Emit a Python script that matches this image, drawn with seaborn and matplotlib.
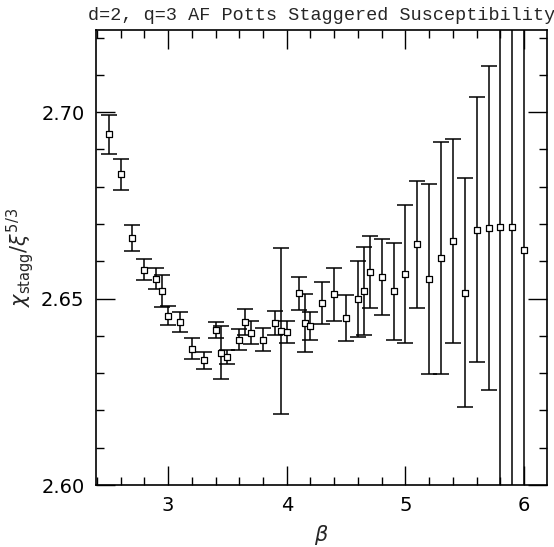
import matplotlib
matplotlib.use("Agg")
import matplotlib.pyplot as plt
import seaborn as sns
import pandas as pd
from matplotlib.ticker import MultipleLocator

beta = [2.5, 2.6, 2.7, 2.8, 2.9, 2.95, 3.0, 3.1, 3.2, 3.3, 3.4, 3.45, 3.5, 3.6,
        3.65, 3.7, 3.8, 3.9, 3.95, 4.0, 4.1, 4.15, 4.2, 4.3, 4.4, 4.5, 4.6, 4.65,
        4.7, 4.8, 4.9, 5.0, 5.1, 5.2, 5.3, 5.4, 5.5, 5.6, 5.7, 5.8, 5.9, 6.0]
chi = [2.6940, 2.6833, 2.6663, 2.6577, 2.6553, 2.6520, 2.6454, 2.6437, 2.6366,
       2.6334, 2.6415, 2.6355, 2.6343, 2.6390, 2.6437, 2.6409, 2.6390, 2.6434,
       2.6413, 2.6411, 2.6514, 2.6434, 2.6426, 2.6488, 2.6511, 2.6447, 2.6499,
       2.6519, 2.6571, 2.6559, 2.6520, 2.6567, 2.6646, 2.6552, 2.6609, 2.6654,
       2.6516, 2.6685, 2.6690, 2.6692, 2.6692, 2.6630]
err = [0.0051, 0.0042, 0.0035, 0.0028, 0.0028, 0.0043, 0.0026, 0.0027, 0.0027,
       0.0023, 0.0022, 0.0071, 0.0019, 0.0028, 0.0035, 0.0031, 0.0030, 0.0032,
       0.0223, 0.0029, 0.0045, 0.0077, 0.0037, 0.0057, 0.0071, 0.0062, 0.0103,
       0.0118, 0.0097, 0.0102, 0.0130, 0.0185, 0.0170, 0.0255, 0.0311, 0.0273,
       0.0306, 0.0355, 0.0434, 0.09, 0.10, 0.12]

df = pd.DataFrame({"beta": beta, "chi": chi, "err": err})

sns.set_theme(style="ticks")
plt.rcParams["font.family"] = ["DejaVu Sans"]

fig = plt.figure(figsize=(5.54, 5.47), dpi=100)
ax = fig.add_axes([0.1727, 0.1133, 0.8141, 0.8317])

ax.errorbar(df["beta"], df["chi"], yerr=df["err"], fmt="none", ecolor="black",
            elinewidth=1.1, capsize=6, capthick=1.1, zorder=2)
sns.scatterplot(data=df, x="beta", y="chi", marker="s", s=22, facecolor="white",
                edgecolor="black", linewidth=0.9, ax=ax, zorder=3)

ax.set_xlim(2.39, 6.19)
ax.set_ylim(2.60, 2.722)
ax.xaxis.set_major_locator(MultipleLocator(1))
ax.xaxis.set_minor_locator(MultipleLocator(0.2))
ax.yaxis.set_major_locator(MultipleLocator(0.05))
ax.yaxis.set_minor_locator(MultipleLocator(0.01))
ax.set_yticks([2.60, 2.65, 2.70])
ax.set_yticklabels(["2.60", "2.65", "2.70"])
ax.tick_params(which="both", direction="in", top=True, right=True, width=1.0,
               colors="black", labelsize=14)
ax.tick_params(which="major", length=14, pad=8)
ax.tick_params(which="minor", length=6)
for s in ax.spines.values():
    s.set_linewidth(1.2)
    s.set_color("black")

ax.set_xlabel(r"$\beta$", fontsize=15, labelpad=6)
ax.set_ylabel(r"$\chi_{\rm stagg}/\xi^{5/3}$", fontsize=15, labelpad=4)
ax.set_title("d=2, q=3 AF Potts Staggered Susceptibility", fontsize=13.3,
             family=["Liberation Mono", "DejaVu Sans Mono"], pad=7)

fig.savefig("out.png", dpi=100)
